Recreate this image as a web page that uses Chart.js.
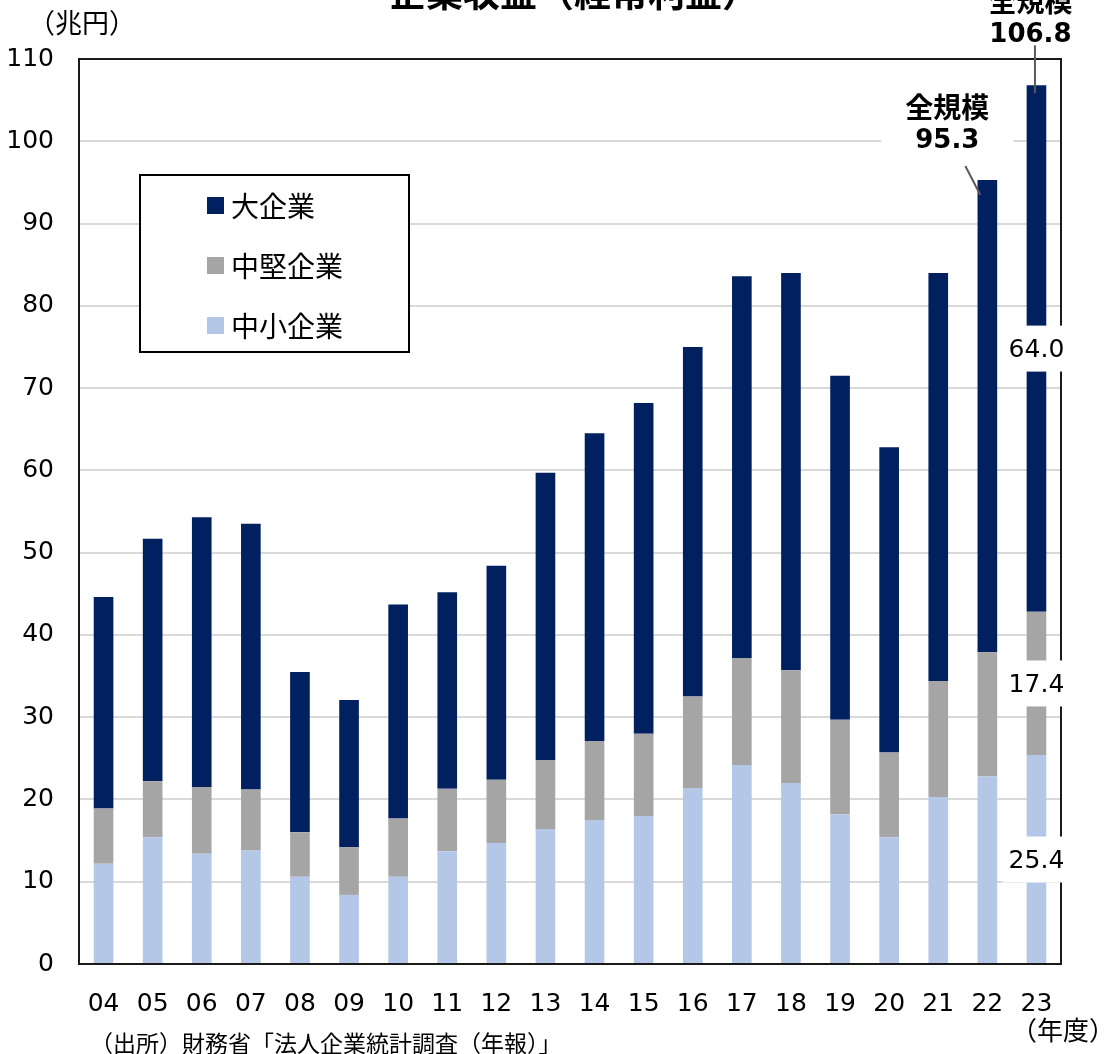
<!DOCTYPE html>
<html>
<head>
<meta charset="utf-8">
<script src="https://cdn.jsdelivr.net/npm/chart.js@4.4.1/dist/chart.umd.min.js"></script>
<style>
  html, body { margin: 0; padding: 0; background: #fff; }
  #wrap { width: 1115px; height: 1054px; position: relative; }
</style>
</head>
<body>
<div id="wrap"><canvas id="profitChart"></canvas></div>
<script>
// 年度
const years = ['04', '05', '06', '07', '08', '09', '10', '11', '12', '13',
               '14', '15', '16', '17', '18', '19', '20', '21', '22', '23'];
// 経常利益（兆円）
const smallFirms = [12.2, 15.4, 13.4, 13.8, 10.6, 8.4, 10.6, 13.7, 14.7, 16.4,
                    17.5, 18.0, 21.4, 24.2, 22.0, 18.2, 15.4, 20.3, 22.8, 25.4];
const midFirms = [6.7, 6.8, 8.1, 7.4, 5.4, 5.8, 7.1, 7.6, 7.7, 8.4,
                  9.6, 10.0, 11.1, 13.0, 13.7, 11.5, 10.3, 14.1, 15.1, 17.4];
const largeFirms = [25.7, 29.5, 32.8, 32.3, 19.5, 17.9, 26.0, 23.9, 26.0, 34.9,
                    37.4, 40.2, 42.5, 46.4, 48.3, 41.8, 37.1, 49.6, 57.4, 64.0];
const yTicks = [0, 10, 20, 30, 40, 50, 60, 70, 80, 90, 100, 110];

const NUM_FONT = '"DejaVu Sans"';
const JP_FONT = '"Noto Sans CJK JP"';

// 全規模の注記（バー位置からのずれ）
const totalNotes = [
    { i: 18, dx: -40, dy: -73, line: [-22, -14, -7, 15], box: true },
    { i: 19, dx: -6, dy: -84, line: [-1.5, -40, -1.5, 8], box: false }
];

const overlay = {
    id: 'overlay',
    afterDraw(chart) {
        const { ctx, chartArea: a, scales: { y } } = chart;
        ctx.save();

        // 枠線
        ctx.strokeStyle = '#1a1a1a';
        ctx.lineWidth = 2;
        ctx.strokeRect(a.left, a.top, a.right - a.left, a.bottom - a.top);

        // 23年度の内訳ラベル
        const last = years.length - 1;
        let base = 0;
        ctx.font = '25px ' + NUM_FONT;
        ctx.textAlign = 'center';
        ctx.textBaseline = 'middle';
        chart.data.datasets.forEach((ds, di) => {
            const v = ds.data[last];
            const bar = chart.getDatasetMeta(di).data[last];
            const cy = y.getPixelForValue(base + v / 2);
            base += v;
            const txt = v.toFixed(1);
            const w = ctx.measureText(txt).width + 12;
            ctx.fillStyle = '#fff';
            ctx.fillRect(bar.x - w / 2, cy - 23, w, 46);
            ctx.fillStyle = '#000';
            ctx.fillText(txt, bar.x, cy + 2);
        });

        // 全規模
        totalNotes.forEach(n => {
            const total = smallFirms[n.i] + midFirms[n.i] + largeFirms[n.i];
            const bar = chart.getDatasetMeta(0).data[n.i];
            const top = y.getPixelForValue(total);
            const tx = bar.x + n.dx;
            const ty = top + n.dy;
            if (n.box) {
                ctx.fillStyle = '#fff';
                ctx.fillRect(tx - 66, ty - 20, 132, 72);
            }
            ctx.strokeStyle = '#595959';
            ctx.lineWidth = 2;
            ctx.beginPath();
            ctx.moveTo(bar.x + n.line[0], top + n.line[1]);
            ctx.lineTo(bar.x + n.line[2], top + n.line[3]);
            ctx.stroke();
            ctx.fillStyle = '#000';
            ctx.font = 'bold 28px ' + JP_FONT;
            ctx.fillText('全規模', tx, ty);
            ctx.font = 'bold 26px ' + NUM_FONT;
            ctx.fillText(total.toFixed(1), tx, ty + 34);
        });

        // 凡例
        ctx.strokeStyle = '#000';
        ctx.lineWidth = 2;
        ctx.fillStyle = '#fff';
        ctx.fillRect(140, 175, 269, 177);
        ctx.strokeRect(140, 175, 269, 177);
        ctx.textAlign = 'left';
        ctx.font = '28px ' + JP_FONT;
        const order = chart.data.datasets.slice().reverse();
        order.forEach((ds, k) => {
            const cy = 205 + k * 60;
            ctx.fillStyle = ds.backgroundColor;
            ctx.fillRect(207, cy - 8, 17, 17);
            ctx.fillStyle = '#000';
            ctx.fillText(ds.label, 231, cy + 1);
        });

        // タイトル・単位・出所
        ctx.textAlign = 'center';
        ctx.font = 'bold 37px ' + JP_FONT;
        ctx.fillText('企業収益（経常利益）', 574, -7);
        ctx.textAlign = 'left';
        ctx.font = '27px ' + JP_FONT;
        ctx.fillText('（兆円）', 28, 23);
        ctx.textAlign = 'right';
        ctx.font = '26px ' + JP_FONT;
        ctx.fillText('（年度）', 1115, 1030);
        ctx.textAlign = 'left';
        ctx.font = '23px ' + JP_FONT;
        ctx.fillText('（出所）財務省「法人企業統計調査（年報）」', 90, 1043);
        ctx.restore();
    }
};

const ctx = document.getElementById('profitChart').getContext('2d');

const profitChart = new Chart(ctx, {
    type: 'bar',
    data: {
        labels: years,
        datasets: [
            { label: '中小企業', data: smallFirms, backgroundColor: '#b4c7e7' },
            { label: '中堅企業', data: midFirms, backgroundColor: '#a5a5a5' },
            { label: '大企業', data: largeFirms, backgroundColor: '#002060' }
        ].map(d => Object.assign(d, { categoryPercentage: 1, barPercentage: 0.4 }))
    },
    options: {
        responsive: true,
        maintainAspectRatio: false,
        animation: false,
        devicePixelRatio: 1,
        layout: { padding: { top: 59, right: 54, left: 0, bottom: 0 } },
        plugins: {
            legend: { display: false },
            tooltip: { enabled: false }
        },
        scales: {
            x: {
                stacked: true,
                grid: { display: false },
                border: { display: false },
                ticks: {
                    color: '#000',
                    font: { family: 'DejaVu Sans', size: 25 },
                    padding: 17,
                    maxRotation: 0,
                    autoSkip: false
                },
                afterFit: s => { s.height = 90; }
            },
            y: {
                stacked: true,
                min: yTicks[0],
                max: yTicks[yTicks.length - 1],
                grid: { color: '#d9d9d9', lineWidth: 2, drawTicks: false },
                border: { display: false },
                ticks: {
                    stepSize: 10,
                    color: '#000',
                    font: { family: 'DejaVu Sans', size: 25 },
                    padding: 25
                },
                afterBuildTicks: s => { s.ticks = yTicks.map(v => ({ value: v })); },
                afterFit: s => { s.width = 79; }
            }
        }
    },
    plugins: [overlay]
});
</script>
</body>
</html>
